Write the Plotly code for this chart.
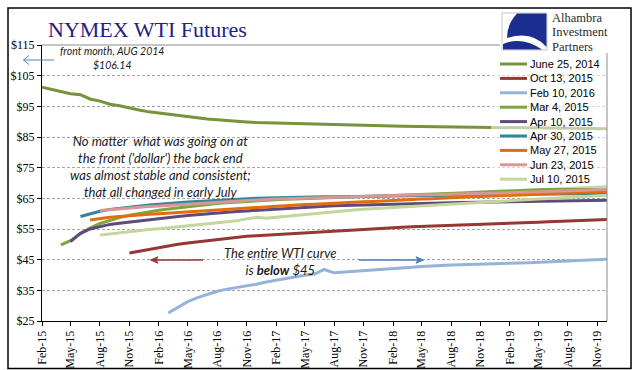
import plotly.graph_objects as go
import pandas as pd

# ---------------- data ----------------
contract_months = pd.date_range("2015-02-01", "2019-12-01", freq="MS").strftime("%Y-%m-%d").tolist()
tick_vals = pd.date_range("2015-02-01", "2019-11-01", freq="3MS").strftime("%Y-%m-%d").tolist()
tick_labels = ["Feb-15", "May-15", "Aug-15", "Nov-15", "Feb-16", "May-16", "Aug-16", "Nov-16",
               "Feb-17", "May-17", "Aug-17", "Nov-17", "Feb-18", "May-18", "Aug-18", "Nov-18",
               "Feb-19", "May-19", "Aug-19", "Nov-19"]
y_tick_vals = [25, 35, 45, 55, 65, 75, 85, 95, 105, 115]
y_tick_labels = ["$25", "$35", "$45", "$55", "$65", "$75", "$85", "$95", "$105", "$115"]

series_names = ["June 25, 2014", "Oct 13, 2015", "Feb 10, 2016", "Mar 4, 2015", "Apr 10, 2015",
                "Apr 30, 2015", "May 27, 2015", "Jun 23, 2015", "Jul 10, 2015"]

jun25_2014 = [101.2, 100.6, 99.7, 99.1, 98.8, 97.4, 96.7, 95.7, 95.2, 94.4,
              93.8, 93.2, 92.8, 92.3, 91.9, 91.5, 91.1, 90.9, 90.6, 90.3,
              90.1, 89.9, 89.7, 89.6, 89.5, 89.4, 89.3, 89.2, 89.1, 89.0,
              88.9, 88.85, 88.8, 88.7, 88.65, 88.6, 88.55, 88.5, 88.45, 88.4,
              88.35, 88.3, 88.25, 88.2, 88.15, 88.1, 88.05, 88.0, 88.0, 87.95,
              87.9, 87.9, 87.85, 87.8, 87.8, 87.75, 87.7, 87.7, 87.65]
oct13_2015 = [None] * 9 + [
              47.2, 47.8, 48.4, 49.0, 49.5, 50.0, 50.4, 50.8, 51.1, 51.5,
              51.8, 52.4, 52.6, 52.8, 53.0, 53.2, 53.4, 53.6, 53.8, 54.0,
              54.2, 54.4, 54.6, 54.8, 55.0, 55.2, 55.4, 55.5, 55.6, 55.7,
              55.8, 55.9, 56.0, 56.1, 56.3, 56.4, 56.5, 56.6, 56.7, 56.8,
              56.95, 57.1, 57.2, 57.35, 57.5, 57.6, 57.75, 57.85, 58.0, 58.1]
feb10_2016 = [None] * 13 + [
              27.6, 29.6, 31.3, 32.6, 33.7, 34.7, 35.4, 35.9, 36.3, 37.0,
              37.7, 38.3, 38.9, 39.5, 39.9, 40.3, 41.8, 40.7, 40.9, 41.1,
              41.3, 41.5, 41.8, 42.0, 42.3, 42.5, 42.8, 43.0, 43.2, 43.3,
              43.35, 43.4, 43.5, 43.6, 43.7, 43.8, 43.9, 44.0, 44.2, 44.3,
              44.45, 44.6, 44.7, 44.85, 45.0, 45.1]
mar4_2015 = [None] * 2 + [
              49.8, 51.2, 53.5, 55.3, 56.8, 57.8, 58.7, 59.5, 60.1, 60.6,
              61.1, 61.5, 61.9, 62.3, 62.7, 63.0, 63.3, 63.6, 63.8, 64.0,
              64.3, 64.5, 64.6, 64.7, 64.8, 64.9, 65.0, 65.1, 65.2, 65.3,
              65.4, 65.5, 65.6, 65.7, 65.8, 65.9, 66.0, 66.2, 66.3, 66.45,
              66.6, 66.75, 66.9, 67.05, 67.2, 67.3, 67.45, 67.6, 67.75, 67.9,
              68.0, 68.15, 68.3, 68.4, 68.55, 68.7, 68.8]
apr10_2015 = [None] * 3 + [
              50.9, 53.6, 55.0, 55.8, 56.5, 56.9, 57.3, 57.7, 58.1, 58.5,
              58.8, 59.1, 59.4, 59.7, 60.0, 60.3, 60.5, 60.7, 60.9, 61.1,
              61.3, 61.5, 61.7, 61.9, 62.1, 62.3, 62.5, 62.6, 62.7, 62.8,
              62.9, 63.0, 63.1, 63.2, 63.3, 63.35, 63.4, 63.5, 63.55, 63.6,
              63.65, 63.7, 63.75, 63.8, 63.85, 63.9, 63.95, 64.0, 64.05, 64.1,
              64.15, 64.2, 64.25, 64.3, 64.35, 64.4]
apr30_2015 = [None] * 4 + [
              59.1, 60.0, 60.8, 61.4, 61.8, 62.2, 62.5, 62.8, 63.1, 63.4,
              63.6, 63.8, 64.0, 64.2, 64.4, 64.6, 64.8, 64.9, 65.0, 65.1,
              65.2, 65.3, 65.35, 65.4, 65.45, 65.5, 65.55, 65.6, 65.65, 65.7,
              65.75, 65.8, 65.85, 65.9, 65.9, 65.95, 66.0, 66.0, 66.05, 66.1,
              66.1, 66.15, 66.2, 66.2, 66.25, 66.3, 66.3, 66.35, 66.4, 66.4,
              66.45, 66.5, 66.5, 66.55, 66.6]
may27_2015 = [None] * 5 + [
              57.9, 58.4, 58.8, 59.1, 59.4, 59.6, 59.8, 60.0, 60.2, 60.4,
              60.6, 60.8, 61.0, 61.2, 61.4, 61.7, 61.9, 62.1, 62.3, 62.5,
              62.6, 62.8, 63.0, 63.1, 63.3, 63.4, 63.6, 63.7, 63.9, 64.0,
              64.2, 64.3, 64.5, 64.6, 64.8, 64.9, 65.1, 65.2, 65.35, 65.5,
              65.6, 65.75, 65.85, 66.0, 66.1, 66.25, 66.35, 66.5, 66.6, 66.75,
              66.85, 67.0, 67.1, 67.2]
jun23_2015 = [None] * 6 + [
              61.0, 61.3, 61.6, 61.8, 62.1, 62.3, 62.5, 62.7, 62.9, 63.1,
              63.3, 63.5, 63.7, 63.9, 64.1, 64.3, 64.5, 64.65, 64.75, 64.85,
              64.95, 65.05, 65.15, 65.25, 65.35, 65.45, 65.55, 65.65, 65.75, 65.85,
              65.9, 66.0, 66.05, 66.15, 66.2, 66.25, 66.3, 66.4, 66.5, 66.6,
              66.7, 66.75, 66.85, 66.95, 67.05, 67.15, 67.25, 67.35, 67.45, 67.55,
              67.65, 67.75, 67.85]
jul10_2015 = [None] * 6 + [
              53.0, 53.4, 53.8, 54.1, 54.5, 54.8, 55.1, 55.4, 55.7, 56.0,
              56.3, 56.7, 57.0, 57.4, 57.7, 58.3, 58.8, 58.5, 58.8, 59.2,
              59.6, 59.9, 60.2, 60.4, 60.7, 60.9, 61.2, 61.4, 61.6, 61.8,
              62.0, 62.2, 62.4, 62.6, 62.8, 63.0, 63.2, 63.4, 63.55, 63.75,
              63.9, 64.1, 64.25, 64.45, 64.6, 64.8, 64.95, 65.15, 65.3, 65.5,
              65.65, 65.85, 66.0]

series_values = [jun25_2014, oct13_2015, feb10_2016, mar4_2015, apr10_2015,
                 apr30_2015, may27_2015, jun23_2015, jul10_2015]
series_colors = ["#77933C", "#953735", "#95B3D7", "#7EA63F", "#604A7B",
                 "#31859C", "#E46C0A", "#D99694", "#C3D69B"]

for v in series_values:
    assert len(v) == len(contract_months), len(v)

# ---------------- geometry helpers ----------------
W, H = 634, 370
L, R, T, B = 42, 27, 45, 49
PW, PH = W - L - R, H - T - B


def px(x):
    return (x - L) / PW


def py(y):
    return (H - B - y) / PH


def pth(cmds):
    out = []
    for c in cmds:
        if isinstance(c, str):
            out.append(c)
        else:
            out.append(f"{px(c[0]):.5f},{py(c[1]):.5f}")
    return " ".join(out)


# ---------------- figure ----------------
fig = go.Figure()
for name, vals, col in zip(series_names, series_values, series_colors):
    fig.add_trace(go.Scatter(x=contract_months, y=vals, name=name, mode="lines",
                             line=dict(color=col, width=3), connectgaps=False,
                             showlegend=False))

axis_font = dict(family="Liberation Serif", size=12, color="black")
fig.update_layout(
    width=W, height=H,
    margin=dict(l=L, r=R, t=T, b=B),
    paper_bgcolor="white", plot_bgcolor="white",
    xaxis=dict(type="date", range=["2015-02-01", "2019-12-01"], tickmode="array",
               tickvals=tick_vals, ticktext=tick_labels, tickangle=-90,
               ticks="outside", ticklen=4, tickcolor="black", showgrid=False,
               showline=True, linecolor="black", linewidth=1, zeroline=False,
               tickfont=axis_font, automargin=False),
    yaxis=dict(range=[25, 115], tickmode="array", tickvals=y_tick_vals, ticktext=y_tick_labels,
               ticks="outside", ticklen=4, tickcolor="black", showgrid=True,
               gridcolor="#A6A6A6", griddash="3px,2px", gridwidth=1,
               showline=True, linecolor="black", linewidth=1, zeroline=False,
               tickfont=axis_font, automargin=False),
    showlegend=False,
)

shapes = []
# legend background (semi-transparent, over the lines)
shapes.append(dict(type="rect", xref="paper", yref="paper", x0=px(491), x1=px(607), y0=py(188), y1=py(56),
                   fillcolor="rgba(255,255,255,0.55)", line=dict(width=0), layer="above"))
# plot area border (top/right)
shapes.append(dict(type="line", xref="paper", yref="paper", x0=px(42), x1=px(607), y0=py(45), y1=py(45),
                   line=dict(color="#8C8C8C", width=1), layer="above"))
shapes.append(dict(type="line", xref="paper", yref="paper", x0=px(607), x1=px(607), y0=py(45), y1=py(321),
                   line=dict(color="#8C8C8C", width=1), layer="above"))
# outer chart border
shapes.append(dict(type="rect", xref="paper", yref="paper", x0=px(8), x1=px(631), y0=py(368.5), y1=py(8),
                   line=dict(color="black", width=1.5), layer="above"))
# logo
shapes.append(dict(type="rect", xref="paper", yref="paper", x0=px(500), x1=px(626), y0=py(53), y1=py(9),
                   fillcolor="white", line=dict(width=0), layer="above"))
shapes.append(dict(type="rect", xref="paper", yref="paper", x0=px(502), x1=px(547), y0=py(50), y1=py(13),
                   fillcolor="white", line=dict(color="#C8C8C8", width=1), layer="above"))
shapes.append(dict(type="path", xref="paper", yref="paper",
                   path=pth(["M", (517, 13.5), "L", (546.5, 13.5), "L", (546.5, 47), "Q", (532, 30), (507, 38),
                             "Q", (507, 24), (517, 13.5), "Z"]),
                   fillcolor="#1B2E8F", line=dict(width=0), layer="above"))
shapes.append(dict(type="path", xref="paper", yref="paper",
                   path=pth(["M", (503, 49.5), "L", (503, 44), "Q", (522, 36), (542, 49.5), "Z"]),
                   fillcolor="#1B2E8F", line=dict(width=0), layer="above"))

# legend keys
leg_y0, leg_dy = 64, 14.4
for i, col in enumerate(series_colors):
    yy = leg_y0 + i * leg_dy
    shapes.append(dict(type="line", xref="paper", yref="paper", x0=px(500), x1=px(527), y0=py(yy), y1=py(yy),
                       line=dict(color=col, width=3), layer="above"))

# callout arrows (shaft + head)
blue_arrow = "#4F81BD"
red_arrow = "#953735"
shapes.append(dict(type="line", xref="paper", yref="paper", x0=px(23.5), x1=px(54), y0=py(60), y1=py(60),
                   line=dict(color=blue_arrow, width=1), layer="above"))
shapes.append(dict(type="path", xref="paper", yref="paper",
                   path=pth(["M", (29, 55.5), "L", (23.5, 60), "L", (29, 64.5)]),
                   line=dict(color=blue_arrow, width=1), layer="above"))
shapes.append(dict(type="line", xref="paper", yref="paper", x0=px(155), x1=px(203), y0=py(260), y1=py(260),
                   line=dict(color=red_arrow, width=1.3), layer="above"))
shapes.append(dict(type="path", xref="paper", yref="paper",
                   path=pth(["M", (150.5, 260), "L", (158, 256.8), "L", (156, 260), "L", (158, 263.2), "Z"]),
                   fillcolor=red_arrow, line=dict(color=red_arrow, width=1), layer="above"))
shapes.append(dict(type="line", xref="paper", yref="paper", x0=px(359), x1=px(419), y0=py(260), y1=py(260),
                   line=dict(color="#4A7EBB", width=1.3), layer="above"))
shapes.append(dict(type="path", xref="paper", yref="paper",
                   path=pth(["M", (423.5, 260), "L", (416, 256.8), "L", (418, 260), "L", (416, 263.2), "Z"]),
                   fillcolor="#4A7EBB", line=dict(color="#4A7EBB", width=1), layer="above"))
fig.update_layout(shapes=shapes)

ann = []
ann.append(dict(text="NYMEX WTI Futures", x=px(46), y=py(30), xanchor="left", yanchor="middle",
                font=dict(family="Liberation Serif", size=22, color="#1F2185")))
for t, yy in [("Alhambra", 18.5), ("Investment", 32.5), ("Partners", 46.5)]:
    ann.append(dict(text=t, x=px(550), y=py(yy), xanchor="left", yanchor="middle",
                    font=dict(family="Liberation Serif", size=12.5, color="#2A2A2A")))
for i, name in enumerate(series_names):
    ann.append(dict(text=name, x=px(528), y=py(leg_y0 + i * leg_dy), xanchor="left", yanchor="middle",
                    font=dict(family="Liberation Sans", size=11, color="black")))

note_font = dict(family="Lato", size=13, color="#1A1A1A")
ann.append(dict(text="<i>front month, AUG 2014<br>$106.14</i>", x=px(112), y=py(58), xanchor="center",
                yanchor="middle", font=dict(family="Lato", size=10.5, color="#1A1A1A")))
ann.append(dict(text="<i>No matter  what was going on at<br>the front ('dollar') the back end<br>"
                     "was almost stable and consistent;<br>that all changed in early July</i>",
                x=px(160), y=py(166), xanchor="center", yanchor="middle", font=note_font))
ann.append(dict(text="<i>The entire WTI curve<br>is <b>below</b> $45</i>", x=px(280), y=py(261),
                xanchor="center", yanchor="middle", font=note_font))
for a in ann:
    a.setdefault("xref", "paper")
    a.setdefault("yref", "paper")
    a.setdefault("showarrow", False)
fig.update_layout(annotations=ann)

# the page's default 8px body margin would offset the 634x370 figure inside the window
fig.write_html("out.html", config={"displayModeBar": False},
               post_script="document.body.style.margin='0px';")
